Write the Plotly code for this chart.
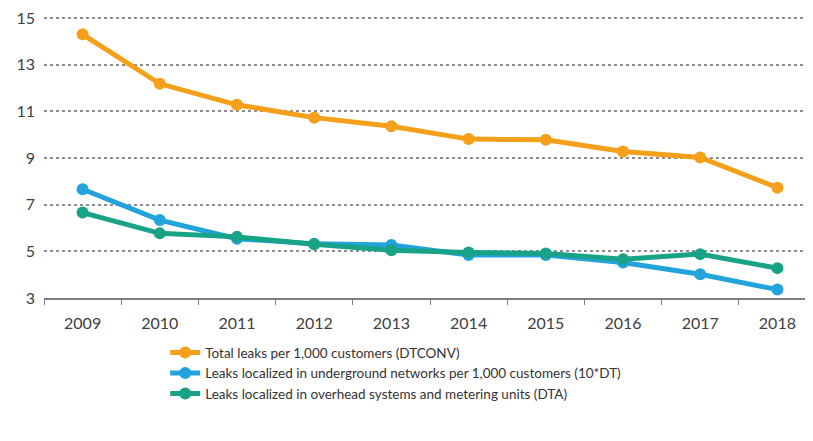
import plotly.graph_objects as go

years = ["2009", "2010", "2011", "2012", "2013", "2014", "2015", "2016", "2017", "2018"]
total_leaks = [14.3, 12.18, 11.28, 10.73, 10.36, 9.81, 9.78, 9.28, 9.02, 7.73]
underground = [7.66, 6.34, 5.54, 5.32, 5.27, 4.84, 4.84, 4.52, 4.02, 3.36]
overhead = [6.66, 5.77, 5.62, 5.30, 5.05, 4.95, 4.91, 4.66, 4.88, 4.28]
series_names = [
    "Total leaks per 1,000 customers (DTCONV)",
    "Leaks localized in underground networks per 1,000 customers (10*DT)",
    "Leaks localized in overhead systems and metering units (DTA)",
]
colors = ["#F5A01A", "#22A3DB", "#18A286"]
y_ticks = [3, 5, 7, 9, 11, 13, 15]

fig = go.Figure()
for name, vals, col in zip(series_names, [total_leaks, underground, overhead], colors):
    fig.add_trace(go.Scatter(
        x=years, y=vals, name=name, mode="lines+markers",
        line=dict(color=col, width=5),
        marker=dict(color=col, size=12),
    ))

fig.update_layout(
    width=813, height=441,
    margin=dict(l=36, r=5, t=8, b=151, autoexpand=False),
    plot_bgcolor="white", paper_bgcolor="white",
    font=dict(family="Lato, Open Sans, sans-serif", size=14, color="#404040"),
    xaxis=dict(
        type="category", range=[-0.5, 9.5], automargin=False,
        showgrid=False, showline=True, linecolor="#808080", linewidth=2,
        ticks="outside", tickson="boundaries", ticklen=5, tickcolor="#808080",
        tickfont=dict(size=16, color="#404040"),
        ticklabelstandoff=10,
    ),
    yaxis=dict(
        range=[3, 15.086], tickvals=y_ticks, showgrid=True, automargin=False,
        gridcolor="#8C8C8C", gridwidth=2, griddash="dot",
        zeroline=False, showline=False,
        tickfont=dict(size=16, color="#404040"),
        ticklabelstandoff=8, ticklabeloverflow="allow",
    ),
    legend=dict(
        orientation="v", x=0.157, y=-0.139, xanchor="left", yanchor="top",
        font=dict(size=13.5, color="#333333"), itemwidth=30,
        tracegroupgap=0, bgcolor="rgba(0,0,0,0)",
    ),
    showlegend=True,
)

fig.write_html("out.html")
